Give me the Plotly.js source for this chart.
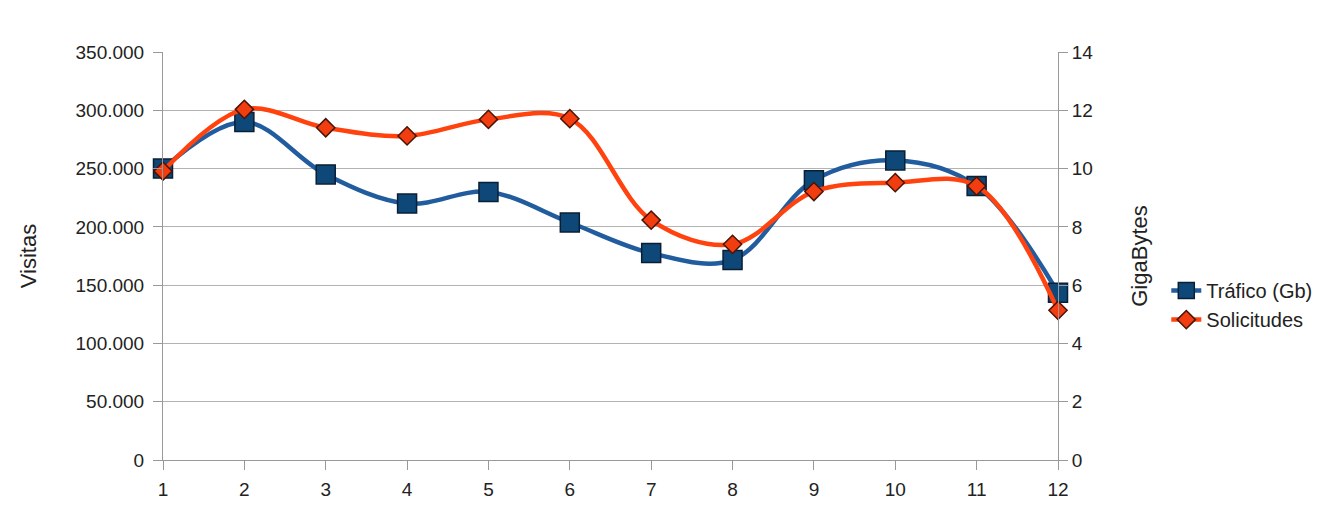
<!DOCTYPE html>
<html>
<head>
<meta charset="utf-8">
<script src="https://cdn.plot.ly/plotly-3.0.1.min.js"></script>
<style>html,body{margin:0;padding:0;background:#fff;}#chart{width:1332px;height:511px;}</style>
</head>
<body>
<div id="chart"></div>
<script>
const meses = [1, 2, 3, 4, 5, 6, 7, 8, 9, 10, 11, 12];
const traficoGb = [10.0, 11.6, 9.8, 8.8, 9.2, 8.15, 7.1, 6.86, 9.6, 10.28, 9.4, 5.74];
const solicitudes = [247800, 300800, 285000, 278000, 292200, 292800, 205800, 185000, 230300, 237900, 235000, 128400];
const visitasTicks = [0, 50000, 100000, 150000, 200000, 250000, 300000, 350000];
const gbTicks = [0, 2, 4, 6, 8, 10, 12, 14];

const fam = 'Liberation Sans, Arial, sans-serif';
const tickFont = {family: fam, size: 19, color: '#222'};
const titleFont = {family: fam, size: 22, color: '#222'};

const traces = [
  {
    x: meses, y: traficoGb, name: 'Tráfico (Gb)', type: 'scatter', mode: 'lines+markers',
    yaxis: 'y', cliponaxis: false,
    line: {shape: 'spline', smoothing: 1, color: '#215c9e', width: 4.5},
    marker: {symbol: 'square', size: 19, color: '#0e4879', line: {color: '#0a1f33', width: 1.5}}
  },
  {
    x: meses, y: solicitudes, name: 'Solicitudes', type: 'scatter', mode: 'lines+markers',
    yaxis: 'y2', cliponaxis: false,
    line: {shape: 'spline', smoothing: 1, color: '#ff420e', width: 4.5},
    marker: {symbol: 'diamond', size: 14, color: '#f23d10', line: {color: '#4a1405', width: 1.5}}
  }
];

const layout = {
  width: 1332, height: 511,
  paper_bgcolor: '#fff', plot_bgcolor: '#fff',
  separators: ',.',
  font: tickFont,
  margin: {l: 163, r: 274, t: 52, b: 51, autoexpand: false},
  showlegend: true,
  legend: {x: 1.121, xanchor: 'left', y: 0.463, yanchor: 'top', font: {family: fam, size: 20, color: '#222'},
           bgcolor: 'rgba(0,0,0,0)', itemwidth: 30},
  xaxis: {
    range: [1, 12], tickvals: meses, ticks: 'outside', ticklen: 9, tickcolor: '#999', ticklabelstandoff: 3,
    showline: true, linecolor: '#999', linewidth: 1, showgrid: false, zeroline: false,
    tickfont: tickFont
  },
  yaxis: {
    side: 'right', range: [0, 14], tickvals: gbTicks, ticks: 'outside', ticklen: 9, tickcolor: '#999',
    showline: true, linecolor: '#999', showgrid: false, zeroline: false, tickfont: tickFont,
    title: {text: 'GigaBytes', font: titleFont, standoff: 39}
  },
  yaxis2: {
    overlaying: 'y', side: 'left', range: [0, 350000], tickvals: visitasTicks, tickformat: ',d',
    ticks: 'outside', ticklen: 9, tickcolor: '#999', ticklabelstandoff: 5,
    showline: true, linecolor: '#999', showgrid: true, gridcolor: '#b3b3b3', gridwidth: 1, zeroline: false,
    tickfont: tickFont,
    title: {text: 'Visitas', font: titleFont, standoff: 32}
  }
};

Plotly.newPlot('chart', traces, layout, {displayModeBar: false, staticPlot: true});
</script>
</body>
</html>
